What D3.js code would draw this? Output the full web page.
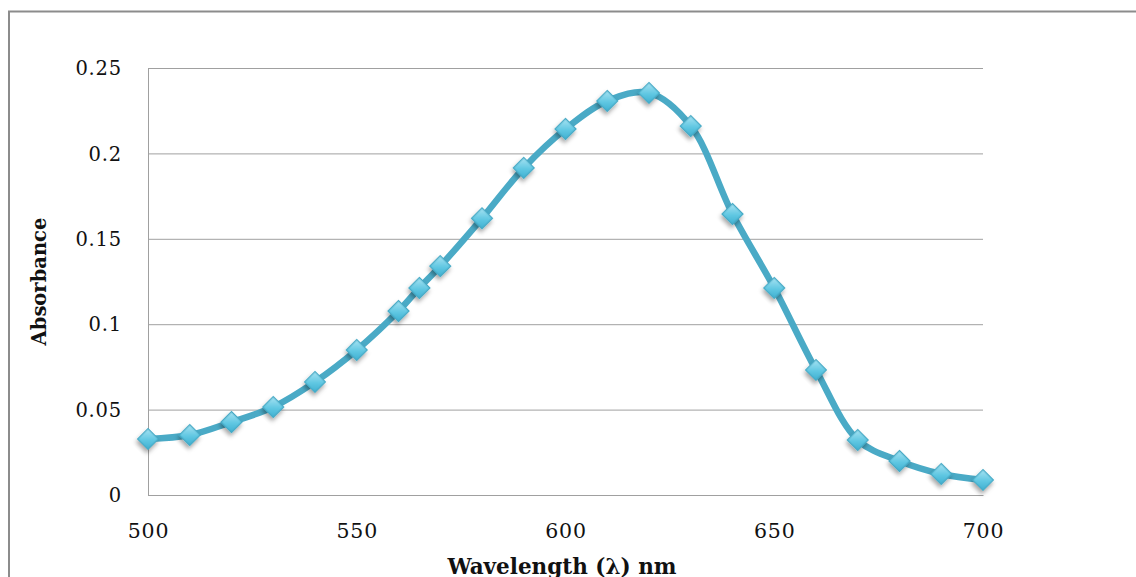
<!DOCTYPE html>
<html>
<head>
<meta charset="utf-8">
<script src="https://cdn.jsdelivr.net/npm/d3@7"></script>
<style>
  html, body { margin: 0; padding: 0; background: #fff; }
  svg { display: block; }
</style>
</head>
<body>
<svg id="chart" width="1136" height="577"></svg>
<script>
const wavelengths = [500, 510, 520, 530, 540, 550, 560, 565, 570, 580, 590, 600, 610, 620, 630, 640, 650, 660, 670, 680, 690, 700];
const absorbance = [0.0328, 0.0351, 0.0427, 0.0515, 0.0662, 0.0849, 0.1077, 0.1212, 0.134, 0.162, 0.1915, 0.2143, 0.2307, 0.2354, 0.216, 0.1645, 0.1212, 0.0732, 0.0322, 0.0199, 0.0123, 0.0088];
const xTicks = [500, 550, 600, 650, 700];
const yTicks = [0, 0.05, 0.1, 0.15, 0.2, 0.25];
const yTickLabels = ["0", "0.05", "0.1", "0.15", "0.2", "0.25"];
const xTitle = "Wavelength (\u03bb) nm";
const yTitle = "Absorbance";

const svg = d3.select("#chart");
const plot = { left: 148, right: 983, top: 68, bottom: 495 };
const x = d3.scaleLinear().domain([500, 700]).range([plot.left, plot.right]);
const y = d3.scaleLinear().domain([0, 0.25]).range([plot.bottom, plot.top]);

const defs = svg.append("defs");
const grad = defs.append("linearGradient").attr("id", "mk").attr("x1", 0).attr("y1", 0).attr("x2", 1).attr("y2", 1);
grad.append("stop").attr("offset", "0%").attr("stop-color", "#a8e3f2");
grad.append("stop").attr("offset", "55%").attr("stop-color", "#60c7e2");
grad.append("stop").attr("offset", "100%").attr("stop-color", "#3fb0d1");
const f = defs.append("filter").attr("id", "sh").attr("x", "-50%").attr("y", "-50%").attr("width", "200%").attr("height", "200%");
f.append("feDropShadow").attr("dx", 1.5).attr("dy", 3).attr("stdDeviation", 2).attr("flood-color", "#000").attr("flood-opacity", 0.35);

// outer frame
svg.append("path")
  .attr("d", "M9,577 V11.5 H1136")
  .attr("fill", "none").attr("stroke", "#8c8c8c").attr("stroke-width", 2);

// gridlines + y axis
const yAxis = d3.axisLeft(y).tickValues(yTicks)
  .tickSize(-(plot.right - plot.left))
  .tickFormat((d, i) => yTickLabels[i]).tickPadding(26);
const gy = svg.append("g").attr("transform", `translate(${plot.left},0)`).call(yAxis);
gy.select(".domain").attr("stroke", "#a0a0a0");
gy.selectAll(".tick line").attr("stroke", "#a0a0a0").attr("stroke-width", 1);
gy.selectAll(".tick text")
  .attr("font-family", "'DejaVu Serif', serif").attr("font-size", 19.5)
  .attr("fill", "#111").attr("letter-spacing", 0.8).attr("dy", "0.34em");

const xAxis = d3.axisBottom(x).tickValues(xTicks).tickSize(0).tickPadding(28).tickFormat(d3.format("d"));
const gx = svg.append("g").attr("transform", `translate(0,${plot.bottom})`).call(xAxis);
gx.select(".domain").attr("stroke", "#a0a0a0");
gx.selectAll(".tick text")
  .attr("font-family", "'DejaVu Serif', serif").attr("font-size", 20.5)
  .attr("fill", "#111").attr("letter-spacing", 0.8);

// titles
svg.append("text")
  .attr("x", 562).attr("y", 574)
  .attr("text-anchor", "middle")
  .attr("font-family", "'DejaVu Serif', serif").attr("font-weight", "bold")
  .attr("font-size", 21.5).attr("fill", "#111")
  .text(xTitle);
svg.append("text")
  .attr("transform", `translate(46,${(plot.top + plot.bottom) / 2}) rotate(-90)`)
  .attr("text-anchor", "middle")
  .attr("font-family", "'DejaVu Serif', serif").attr("font-weight", "bold")
  .attr("font-size", 19.5).attr("fill", "#111")
  .text(yTitle);

const data = wavelengths.map((w, i) => ({ w, a: absorbance[i] }));

const line = d3.line().x(d => x(d.w)).y(d => y(d.a)).curve(d3.curveCatmullRom.alpha(0.5));
svg.append("path").datum(data)
  .attr("d", line)
  .attr("fill", "none").attr("stroke", "#4aaac6").attr("stroke-width", 6.5)
  .attr("stroke-linejoin", "round").attr("stroke-linecap", "round");

svg.append("g").selectAll("path").data(data).join("path")
  .attr("d", d3.symbol().type(d3.symbolSquare).size(215))
  .attr("transform", d => `translate(${x(d.w)},${y(d.a)}) rotate(45)`)
  .attr("fill", "url(#mk)").attr("stroke", "#44a8c4").attr("stroke-width", 1.2)
  .attr("filter", "url(#sh)");
</script>
</body>
</html>
